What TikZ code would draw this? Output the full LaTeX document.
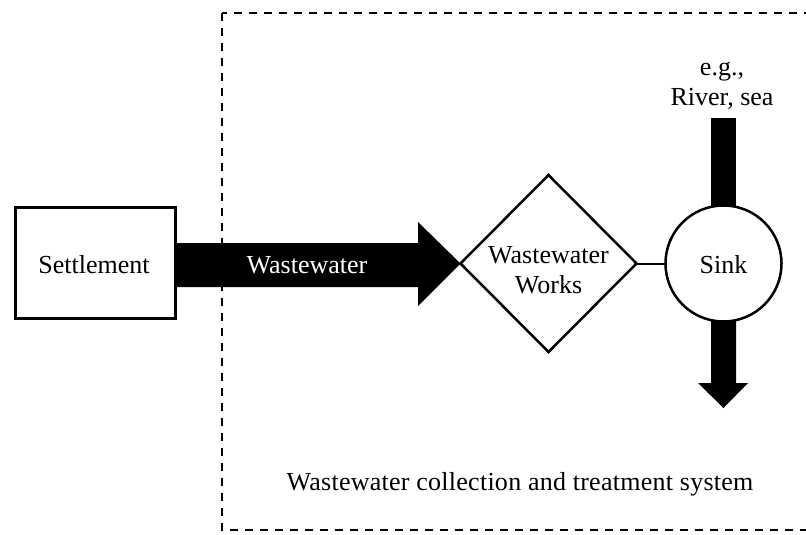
\documentclass[tikz,border=0pt]{standalone}
\usepackage{fontspec}
\setmainfont{Liberation Serif}
\usetikzlibrary{shapes.geometric,calc}
\begin{document}
\begin{tikzpicture}[x=1pt,y=-1pt,
  every node/.style={inner sep=0pt, outer sep=0pt},
  txt/.style={font=\fontsize{26}{30}\selectfont, anchor=base},
  boxstyle/.style={draw, line width=3pt, minimum width=160pt, minimum height=111pt},
  diastyle/.style={diamond, draw, line width=2.5pt, minimum width=176pt, minimum height=177pt},
  circstyle/.style={circle, draw, line width=2.5pt, minimum size=116pt},
  flow/.style={fill=black}]
\useasboundingbox (0,0) rectangle (806,535);
\clip (0,0) rectangle (806,535);
% system boundary
\draw[line width=2.5pt, dash pattern=on 8pt off 7pt] (222,13) rectangle (840,530);
% nodes
\node[boxstyle] (set) at (95,262.5) {};
\node[diastyle] (ww) at (548.5,263.5) {};
\node[circstyle] (sink) at (723.5,263.5) {};
% big arrow settlement -> works
\fill[flow] (set.east |- 0,243) -- (418,243) -- (418,222) -- (ww.west) -- (418,306) -- (418,287) -- (set.east |- 0,287) -- cycle;
% link works - sink
\draw[line width=2pt] (ww.east) -- (sink.west);
% inflow from river
\coordinate (src) at (723.5,118);
\fill[flow] ($(src)+(-12.5,0)$) rectangle ($(sink.north)+(12.5,1)$);
% outflow
\coordinate (out) at (723.5,408);
\fill[flow] ($(sink.south)+(-12.5,-1)$) -- ($(sink.south)+(12.5,-1)$) -- (736,383) -- (748,383) -- (out) -- (698,383) -- (711,383) -- cycle;
% texts
\node[txt] at (94,273) {Settlement};
\node[txt, text=white] at (307,273) {Wastewater};
\node[txt] at (548.5,263) {Wastewater};
\node[txt] at (548.5,293) {Works};
\node[txt] at (723.5,273) {Sink};
\node[txt] at (722,75) {e.g.,};
\node[txt] at (722,105) {River, sea};
\node[txt] at (520,490) {\addfontfeature{LetterSpace=1}Wastewater collection and treatment system};
\end{tikzpicture}
\end{document}
